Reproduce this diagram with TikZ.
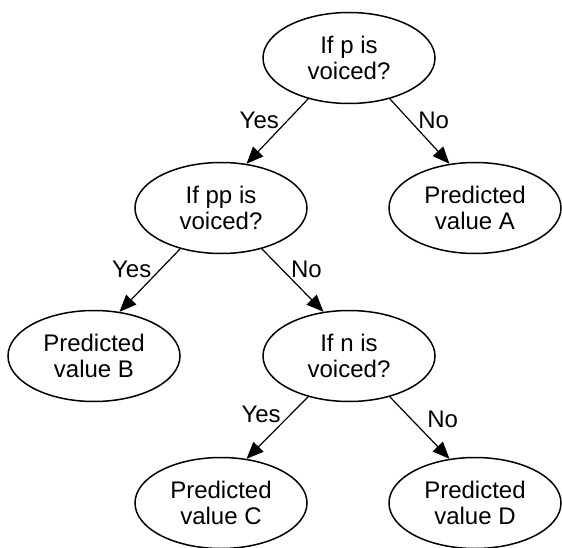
\documentclass[tikz,border=0pt]{standalone}
\usepackage{fontspec}
\setmainfont{Liberation Sans}
\usetikzlibrary{shapes.geometric,arrows.meta}
\begin{document}
\begin{tikzpicture}[x=1pt,y=-1pt,
    test/.style={ellipse,draw,line width=1.5pt,minimum width=172pt,minimum height=91pt,
        inner sep=0pt,align=center,font=\fontsize{24}{26}\selectfont},
    branch/.style={-{Triangle[length=17pt,width=14pt]},line width=1.2pt},
    lbl/.style={inner sep=1pt,font=\fontsize{24}{26}\selectfont}]
    \useasboundingbox (0,0) rectangle (562,548);
    % Nodes
    \node[test] (P) at (349,58){If p is\\voiced?};
    \node[test] (PP) at (221,208){If pp is\\voiced?};
    \node[test] (A) at (475,208){Predicted\\value A};
    \node[test] (B) at (94,356){Predicted\\value B};
    \node[test] (N) at (349,356){If n is\\voiced?};
    \node[test] (C) at (221,503){Predicted\\value C};
    \node[test] (D) at (475,503){Predicted\\value D};
    % Edges
    \draw[branch] (P.225) -- node[lbl,pos=0.45,anchor=base east] (yes1){Yes} (PP.60);
    \draw[branch] (P.315) -- node[lbl,pos=0.45,anchor=base west] (no1){No} (A.120);
    \draw[branch] (PP.225) -- node[lbl,pos=0.45,anchor=base east] (yes2){Yes} (B.60);
    \draw[branch] (PP.315) -- node[lbl,pos=0.45,anchor=base west] (no2){No} (N.120);
    \draw[branch] (N.225) -- node[lbl,pos=0.42,anchor=base east] (yes3){Yes} (C.60);
    \draw[branch] (N.315) -- node[lbl,pos=0.5,anchor=base west,xshift=6pt] (no3){No} (D.120);
\end{tikzpicture}
\end{document}
